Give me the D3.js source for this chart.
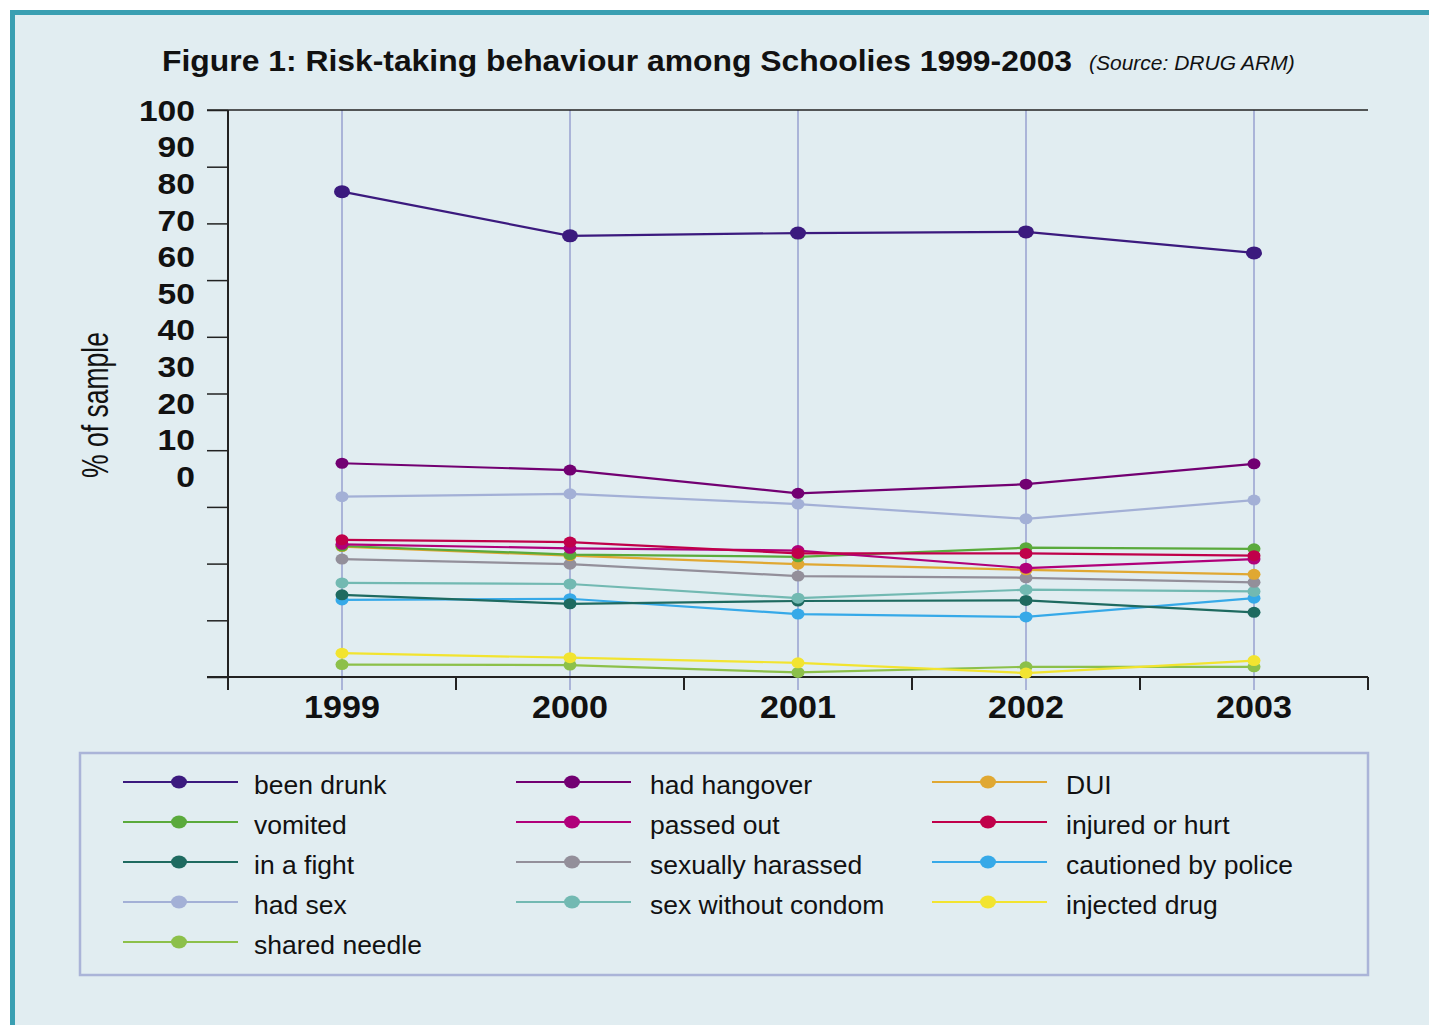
<!DOCTYPE html>
<html>
<head>
<meta charset="utf-8">
<script src="https://cdn.jsdelivr.net/npm/d3@7"></script>
<style>
    body { margin: 0; background: #ffffff; }
    text { font-family: "Liberation Sans", Arial, sans-serif; }
</style>
</head>
<body>
<div id="chart"></div>
<script>
// data (% of sample)
var years = ["1999", "2000", "2001", "2002", "2003"];
var yTicks = [0, 10, 20, 30, 40, 50, 60, 70, 80, 90, 100];
var yLabels = ["0", "10", "20", "30", "40", "50", "60", "70", "80", "90", "100"];

var seriesNames = ["been drunk", "had hangover", "DUI", "vomited", "passed out", "injured or hurt",
    "in a fight", "sexually harassed", "cautioned by police", "had sex", "sex without condom",
    "injected drug", "shared needle"];
var seriesColors = ["#3b1a7e", "#720072", "#e0a832", "#5aaa3c", "#b0007a", "#c0004a",
    "#1e6a60", "#938f9a", "#36a9e8", "#a3b0d6", "#72b9b2", "#f2e430", "#8cc04a"];

var beenDrunk = [85.6, 77.8, 78.3, 78.5, 74.8];
var hadHangover = [37.7, 36.5, 32.4, 34.0, 37.6];
var dui = [23.0, 21.4, 19.9, 18.9, 18.1];
var vomited = [23.1, 21.6, 21.2, 22.8, 22.6];
var passedOut = [23.4, 22.7, 22.3, 19.2, 20.8];
var injured = [24.2, 23.8, 21.8, 21.8, 21.4];
var inAFight = [14.5, 12.9, 13.4, 13.5, 11.4];
var harassed = [20.8, 19.9, 17.8, 17.5, 16.7];
var cautioned = [13.6, 13.8, 11.1, 10.6, 13.9];
var hadSex = [31.8, 32.3, 30.5, 27.9, 31.2];
var noCondom = [16.6, 16.4, 13.9, 15.4, 15.1];
var injectedDrug = [4.2, 3.4, 2.5, 0.7, 2.9];
var sharedNeedle = [2.2, 2.1, 0.8, 1.8, 1.8];

var seriesValues = [beenDrunk, hadHangover, dui, vomited, passedOut, injured,
    inAFight, harassed, cautioned, hadSex, noCondom, injectedDrug, sharedNeedle];

// order the lines are drawn in (last on top)
var drawOrder = [12, 11, 8, 6, 10, 7, 2, 3, 4, 5, 9, 1, 0];

var W = 1429, H = 1025;

// stretch text a bit wider (the original face is wider than Liberation Sans)
function widen(sel, k) {
    sel.each(function() {
        var len = this.getComputedTextLength();
        d3.select(this)
            .attr("textLength", len * k)
            .attr("lengthAdjust", "spacingAndGlyphs");
    });
}

var svg = d3.select("#chart").append("svg")
    .attr("width", W)
    .attr("height", H);

// panel background + teal frame
svg.append("rect")
    .attr("x", 12).attr("y", 12)
    .attr("width", W - 12).attr("height", H - 12)
    .attr("fill", "#e1edf1");
svg.append("path")
    .attr("d", "M12.5," + H + "V12.5H" + W)
    .attr("fill", "none")
    .attr("stroke", "#3a9fb2")
    .attr("stroke-width", 5);

// title
svg.append("text")
    .attr("x", 162)
    .attr("y", 71)
    .attr("font-size", 29.5)
    .attr("font-weight", "bold")
    .attr("fill", "#111")
    .text("Figure 1: Risk-taking behaviour among Schoolies 1999-2003")
    .call(widen, 1.08);
svg.append("text")
    .attr("x", 1089)
    .attr("y", 70)
    .attr("font-size", 20)
    .attr("font-style", "italic")
    .attr("fill", "#111")
    .text("(Source: DRUG ARM)")
    .call(widen, 1.05);

// scales
var xScale = d3.scaleBand()
    .domain(years)
    .range([228, 1368]);

var yScale = d3.scaleLinear()
    .domain([0, 100])
    .range([677, 110]);

// the printed tick labels sit on their own (squashed) spacing
var labelScale = d3.scaleLinear()
    .domain([0, 100])
    .range([476, 110]);

var xMid = function(d) { return xScale(d) + xScale.bandwidth() / 2; };

// vertical grid lines at each year
svg.append("g")
    .selectAll("line")
    .data(years)
    .enter().append("line")
    .attr("x1", xMid).attr("x2", xMid)
    .attr("y1", yScale(100)).attr("y2", 690)
    .attr("stroke", "#aab4d8")
    .attr("stroke-width", 2);

// y axis (ticks only, labels drawn separately)
var yAxis = svg.append("g")
    .attr("transform", "translate(228,0)")
    .call(d3.axisLeft(yScale).tickValues(yTicks).tickSize(21).tickSizeOuter(0).tickFormat(""));
yAxis.select(".domain").remove();
yAxis.selectAll("line").attr("stroke", "#222").attr("stroke-width", 1.5);

svg.append("line")
    .attr("x1", 228).attr("x2", 228)
    .attr("y1", yScale(100)).attr("y2", 690)
    .attr("stroke", "#222").attr("stroke-width", 2);

// top rule
svg.append("line")
    .attr("x1", 207).attr("x2", 1368)
    .attr("y1", yScale(100)).attr("y2", yScale(100))
    .attr("stroke", "#222").attr("stroke-width", 1.5);

// x axis line and boundary ticks
svg.append("line")
    .attr("x1", 207).attr("x2", 1368)
    .attr("y1", yScale(0)).attr("y2", yScale(0))
    .attr("stroke", "#222").attr("stroke-width", 2);

svg.append("g")
    .selectAll("line")
    .data(years)
    .enter().append("line")
    .attr("x1", function(d) { return xScale(d) + xScale.bandwidth(); })
    .attr("x2", function(d) { return xScale(d) + xScale.bandwidth(); })
    .attr("y1", yScale(0)).attr("y2", 690)
    .attr("stroke", "#222").attr("stroke-width", 2);

// y tick labels
svg.append("g")
    .selectAll("text")
    .data(yTicks)
    .enter().append("text")
    .attr("x", 195)
    .attr("y", function(d) { return labelScale(d); })
    .attr("dy", "0.36em")
    .attr("text-anchor", "end")
    .attr("font-size", 30)
    .attr("font-weight", "bold")
    .attr("fill", "#111")
    .text(function(d, i) { return yLabels[i]; })
    .call(widen, 1.12);

// x labels
svg.append("g")
    .selectAll("text")
    .data(years)
    .enter().append("text")
    .attr("x", xMid)
    .attr("y", 718)
    .attr("text-anchor", "middle")
    .attr("font-size", 31)
    .attr("font-weight", "bold")
    .attr("fill", "#111")
    .text(function(d) { return d; })
    .call(widen, 1.1);

// y axis title
svg.append("text")
    .attr("transform", "translate(108,405) rotate(-90)")
    .attr("text-anchor", "middle")
    .attr("font-size", 36)
    .attr("font-family", "'Liberation Sans Narrow', 'DejaVu Sans Condensed', sans-serif")
    .attr("textLength", 146)
    .attr("lengthAdjust", "spacingAndGlyphs")
    .attr("fill", "#111")
    .text("% of sample");

// lines
var line = d3.line()
    .x(function(d, i) { return xMid(years[i]); })
    .y(function(d) { return yScale(d); });

var plot = svg.append("g");
drawOrder.forEach(function(s) {
    var g = plot.append("g");
    g.append("path")
        .datum(seriesValues[s])
        .attr("d", line)
        .attr("fill", "none")
        .attr("stroke", seriesColors[s])
        .attr("stroke-width", 2.2);
    g.selectAll("ellipse")
        .data(seriesValues[s])
        .enter().append("ellipse")
        .attr("cx", function(d, i) { return xMid(years[i]); })
        .attr("cy", function(d) { return yScale(d); })
        .attr("rx", s === 0 ? 8 : 6.5)
        .attr("ry", s === 0 ? 6.5 : 5.5)
        .attr("fill", seriesColors[s]);
});

// legend
svg.append("rect")
    .attr("x", 80).attr("y", 753)
    .attr("width", 1288).attr("height", 222)
    .attr("fill", "none")
    .attr("stroke", "#aab4d8")
    .attr("stroke-width", 2.5);

var legCols = [123, 516, 932];
var legText = [254, 650, 1066];
var legend = svg.append("g");
seriesNames.forEach(function(name, i) {
    // three items per row
    var lx = legCols[i % 3];
    var ly = 782 + 40 * Math.floor(i / 3);
    var item = legend.append("g");
    item.append("line")
        .attr("x1", lx).attr("x2", lx + 115)
        .attr("y1", ly).attr("y2", ly)
        .attr("stroke", seriesColors[i])
        .attr("stroke-width", 2.2);
    item.append("ellipse")
        .attr("cx", lx + 56).attr("cy", ly)
        .attr("rx", 8).attr("ry", 6.5)
        .attr("fill", seriesColors[i]);
    item.append("text")
        .attr("x", legText[i % 3])
        .attr("y", ly + 3)
        .attr("dy", "0.36em")
        .attr("font-size", 25)
        .attr("fill", "#111")
        .text(name)
        .call(widen, 1.06);
});
</script>
</body>
</html>
